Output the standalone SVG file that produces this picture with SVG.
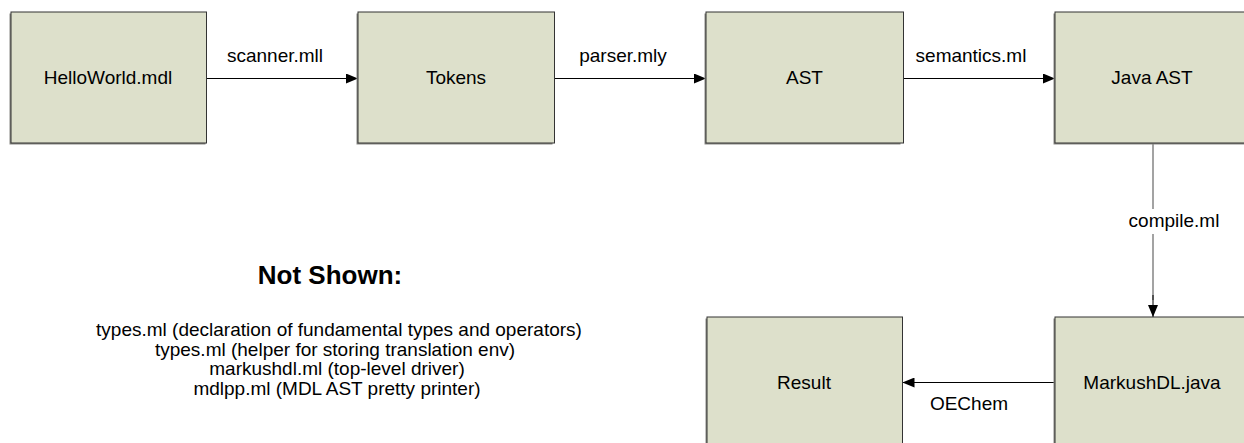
<svg xmlns="http://www.w3.org/2000/svg" width="1244" height="443" viewBox="0 0 1244 443">
  <style>
    .box { fill: #DDE0CB; stroke: #333; stroke-width: 1; }
    .shadow { fill: #8a8a85; }
    .t { font-family: "Liberation Sans", Arial, sans-serif; font-size: 19px; fill: #000; text-anchor: middle; }
    .h { font-family: "Liberation Sans", Arial, sans-serif; font-size: 26px; font-weight: bold; fill: #000; text-anchor: middle; }
    .edge { stroke: #000; stroke-width: 1; fill: none; }
    .gedge { stroke: #666; stroke-width: 1.2; fill: none; }
  </style>
  <defs>
    <marker id="arr" viewBox="0 0 12 10" refX="12" refY="5" markerWidth="12" markerHeight="10" markerUnits="userSpaceOnUse" orient="auto">
      <path d="M0,0 L12,5 L0,10 Z" fill="#000"/>
    </marker>
  </defs>
  <rect width="1244" height="443" fill="#fff"/>

  <g id="connectors">
    <line class="edge" x1="206.5" y1="78.5" x2="358" y2="78.5" marker-end="url(#arr)"/>
    <text class="t" x="275" y="62">scanner.mll</text>
    <line class="edge" x1="554.5" y1="78.5" x2="706" y2="78.5" marker-end="url(#arr)"/>
    <text class="t" x="623" y="62">parser.mly</text>
    <line class="edge" x1="903.5" y1="78.5" x2="1055" y2="78.5" marker-end="url(#arr)"/>
    <text class="t" x="971" y="62">semantics.ml</text>
    <line class="gedge" x1="1153" y1="143" x2="1153" y2="300"/>
    <line class="edge" x1="1153" y1="295" x2="1153" y2="317" marker-end="url(#arr)"/>
    <rect x="1126" y="209" width="96" height="25" fill="#fff"/>
    <text class="t" x="1174" y="227">compile.ml</text>
    <line class="edge" x1="1055" y1="382.5" x2="902.5" y2="382.5" marker-end="url(#arr)"/>
    <text class="t" x="969" y="410">OEChem</text>
  </g>

  <g id="node-helloworld">
    <rect class="shadow" x="9.5" y="13.5" width="196" height="131"/>
    <rect class="box" x="11" y="12" width="195.5" height="131"/>
    <text class="t" x="108" y="84">HelloWorld.mdl</text>
  </g>
  <g id="node-tokens">
    <rect class="shadow" x="356.5" y="13.5" width="196" height="131"/>
    <rect class="box" x="358" y="12" width="196.5" height="131"/>
    <text class="t" x="456" y="84">Tokens</text>
  </g>
  <g id="node-ast">
    <rect class="shadow" x="704.5" y="13.5" width="196" height="131"/>
    <rect class="box" x="706" y="12" width="197.5" height="131"/>
    <text class="t" x="804.5" y="84">AST</text>
  </g>
  <g id="node-javaast">
    <rect class="shadow" x="1053.5" y="13.5" width="200" height="131"/>
    <rect class="box" x="1055" y="12" width="197" height="131"/>
    <text class="t" x="1152" y="84">Java AST</text>
  </g>
  <g id="node-markushdl">
    <rect class="shadow" x="1053.5" y="318.5" width="200" height="131"/>
    <rect class="box" x="1055" y="317" width="197" height="131"/>
    <text class="t" x="1152" y="389">MarkushDL.java</text>
  </g>
  <g id="node-result">
    <rect class="shadow" x="705.5" y="318.5" width="196" height="131"/>
    <rect class="box" x="707" y="317" width="195.5" height="131"/>
    <text class="t" x="804" y="389">Result</text>
  </g>

  <g id="not-shown">
    <text class="h" x="330" y="284">Not Shown:</text>
    <text class="t" x="339" y="336">types.ml (declaration of fundamental types and operators)</text>
    <text class="t" x="335" y="355.5">types.ml (helper for storing translation env)</text>
    <text class="t" x="337" y="375">markushdl.ml (top-level driver)</text>
    <text class="t" x="337" y="394.5">mdlpp.ml (MDL AST pretty printer)</text>
  </g>
</svg>
